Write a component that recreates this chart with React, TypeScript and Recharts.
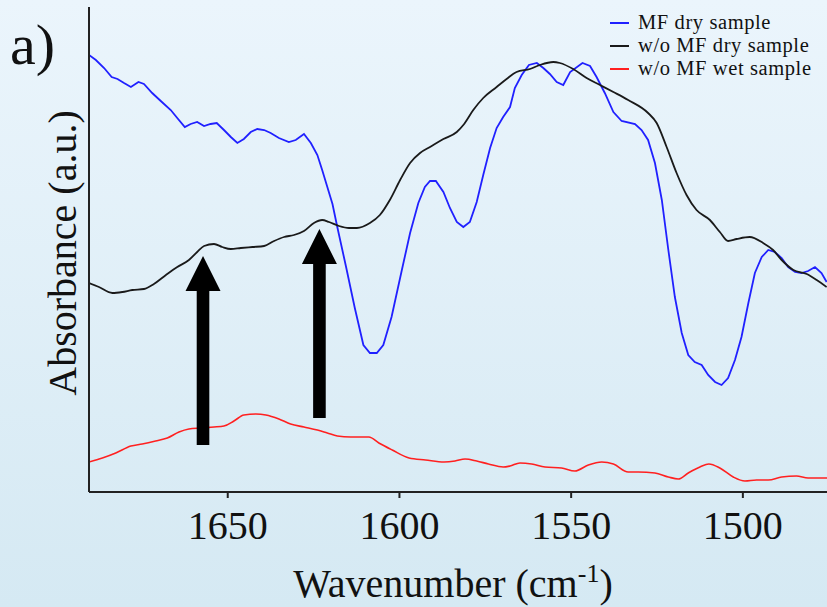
import { LineChart, Line, XAxis, YAxis, Legend, ReferenceLine, Label } from "recharts"

const FONT = '"Liberation Serif", "Times New Roman", serif'

// [wavenumber (cm-1), absorbance (a.u.)]
const mfDry: [number, number][] = [
  [1690.4, 437], [1688.4, 432], [1686.0, 424], [1683.8, 415], [1682.1, 413], [1680.2, 409],
  [1678.2, 405], [1676.0, 410], [1674.4, 408], [1672.0, 399], [1669.5, 391], [1666.6, 382],
  [1664.7, 374], [1662.5, 365], [1660.8, 368], [1658.9, 370], [1656.9, 366], [1655.0, 368],
  [1653.2, 369], [1651.1, 362], [1649.1, 355], [1647.2, 349], [1645.3, 353], [1643.3, 360],
  [1641.4, 363], [1639.4, 362], [1637.5, 359], [1635.1, 354], [1632.2, 350], [1630.2, 352],
  [1627.8, 358], [1625.8, 349], [1623.9, 337], [1622.5, 322], [1621.0, 305], [1619.5, 288],
  [1618.1, 265], [1615.6, 226], [1613.0, 184], [1610.5, 147], [1608.6, 139], [1606.6, 139],
  [1604.7, 147], [1602.3, 175], [1599.3, 222], [1596.9, 259], [1594.5, 289], [1592.6, 305],
  [1591.1, 311], [1589.4, 311], [1587.2, 300], [1585.3, 284], [1583.3, 270], [1581.4, 265],
  [1579.5, 270], [1577.5, 290], [1575.6, 317], [1573.6, 344], [1571.7, 364], [1569.8, 375],
  [1567.8, 385], [1566.4, 404], [1564.4, 417], [1562.3, 427], [1560.0, 429], [1558.1, 424],
  [1556.2, 418], [1554.2, 410], [1552.3, 407], [1550.3, 420], [1546.7, 429], [1544.5, 426],
  [1542.6, 415], [1540.2, 399], [1537.7, 380], [1535.3, 371], [1531.4, 368], [1529.5, 362],
  [1527.6, 352], [1525.6, 329], [1523.6, 292], [1521.7, 242], [1519.8, 195], [1517.8, 159],
  [1515.9, 137], [1514.0, 130], [1512.0, 127], [1510.1, 117], [1508.1, 110], [1506.2, 107],
  [1504.3, 114], [1502.3, 132], [1500.4, 155], [1498.4, 189], [1496.5, 219], [1494.5, 235],
  [1492.6, 242], [1490.7, 240], [1488.7, 234], [1486.8, 225], [1484.8, 220], [1482.9, 219],
  [1481.0, 221], [1479.0, 225], [1477.1, 219], [1475.6, 210],
]

const noMfDry: [number, number][] = [
  [1690.4, 209], [1687.5, 205], [1683.6, 199], [1680.7, 200], [1677.8, 202], [1674.4, 203],
  [1671.5, 208], [1668.0, 217], [1664.7, 225], [1661.3, 232], [1658.9, 240], [1656.9, 246],
  [1654.0, 248], [1651.6, 245], [1649.1, 243], [1646.2, 244], [1642.8, 245], [1639.4, 246],
  [1636.5, 251], [1633.6, 255], [1630.7, 257], [1627.8, 261], [1624.9, 269], [1622.5, 272],
  [1620.5, 270], [1617.6, 266], [1614.7, 264], [1612.4, 264], [1608.6, 269], [1605.7, 277],
  [1602.8, 292], [1599.8, 312], [1596.9, 329], [1594.0, 339], [1591.1, 345], [1587.2, 353],
  [1583.3, 360], [1581.4, 367], [1578.5, 382], [1575.6, 394], [1571.7, 405], [1568.8, 413],
  [1565.9, 420], [1562.0, 423], [1559.1, 427], [1555.2, 430], [1553.3, 429], [1549.4, 423],
  [1545.5, 414], [1541.6, 407], [1537.7, 400], [1533.4, 392], [1527.6, 379], [1525.1, 369],
  [1522.2, 345], [1519.3, 319], [1516.4, 297], [1513.5, 282], [1509.6, 272], [1506.7, 260],
  [1504.3, 251], [1501.8, 253], [1498.0, 255], [1494.1, 249], [1491.2, 242], [1488.7, 232],
  [1485.3, 222], [1481.4, 218], [1478.5, 212], [1475.6, 205],
]

const noMfWet: [number, number][] = [
  [1690.4, 30], [1686.5, 34], [1682.6, 39], [1678.2, 46], [1674.9, 48], [1671.0, 51],
  [1667.6, 54], [1664.2, 60], [1661.3, 63], [1657.9, 64], [1654.0, 65], [1651.1, 66],
  [1648.2, 71], [1645.3, 77], [1641.8, 78], [1638.9, 77], [1635.1, 73], [1631.7, 68],
  [1627.8, 65], [1623.9, 62], [1621.0, 59], [1618.1, 56], [1614.2, 55], [1608.9, 55],
  [1606.0, 49], [1602.1, 42], [1597.2, 34], [1592.4, 32], [1587.0, 30], [1583.8, 31],
  [1580.9, 33], [1577.5, 31], [1574.1, 28], [1569.8, 25], [1567.8, 26], [1564.9, 29],
  [1561.5, 28], [1557.6, 25], [1552.8, 24], [1548.9, 21], [1545.0, 27], [1541.1, 30],
  [1537.7, 28], [1533.4, 20], [1530.5, 20], [1525.6, 19], [1521.7, 15], [1518.8, 13],
  [1515.9, 19], [1512.5, 25], [1509.9, 28], [1506.7, 24], [1502.8, 15], [1499.4, 11],
  [1496.0, 12], [1492.6, 12], [1488.7, 15], [1484.4, 16], [1481.0, 14], [1475.5, 14],
]

const xTicks = [1650, 1600, 1550, 1500]

// arrows marking the two shoulders: position, base and tip
const arrowWn = [1657.2, 1623.3]
const arrowBase = [47, 74]
const arrowTip = [236, 263]

const toRows = (pts: [number, number][]) => pts.map(([wn, abs]) => ({ wn, abs }))

const Arrow = (p: any) => {
  const x = p.x1
  const bottom = Math.max(p.y1, p.y2)
  const tip = Math.min(p.y1, p.y2)
  const head = 35
  const hw = 17.5
  const sw = 6.3
  const pts = [
    [x - sw, bottom], [x - sw, tip + head], [x - hw, tip + head], [x, tip],
    [x + hw, tip + head], [x + sw, tip + head], [x + sw, bottom],
  ]
  return <polygon points={pts.map((q) => q.join(",")).join(" ")} fill="#000" />
}

const LegendBox = ({ payload }: any) => (
  <div style={{ fontFamily: FONT, fontSize: 20.5, lineHeight: "23px", letterSpacing: 0.6, color: "#111" }}>
    {(payload || []).map((e: any) => (
      <div key={e.value} style={{ display: "flex", alignItems: "center", whiteSpace: "nowrap", height: 23 }}>
        <span style={{ display: "inline-block", width: 19, height: 2, background: e.color, marginRight: 9 }} />
        {e.value}
      </div>
    ))}
  </div>
)

export default function App() {
  return (
    <div
      style={{
        position: "absolute",
        left: 0,
        top: 0,
        width: 827,
        height: 607,
        overflow: "hidden",
        background: "linear-gradient(#ebf5fc, #d5e9f3)",
      }}
    >
      <span
        style={{
          position: "absolute",
          left: 10,
          top: 16,
          fontFamily: FONT,
          fontSize: 58,
          lineHeight: "58px",
          color: "#111",
        }}
      >
        a)
      </span>
      <LineChart width={827} height={607} margin={{ top: 7, right: 0, bottom: 0, left: 0 }}>
        <XAxis
          dataKey="wn"
          type="number"
          domain={[1475.5, 1690.4]}
          reversed
          allowDataOverflow
          ticks={xTicks}
          height={115}
          tickSize={6}
          tickMargin={13}
          tick={{ fontSize: 40, fill: "#111", fontFamily: FONT }}
          axisLine={{ stroke: "#222", strokeWidth: 2 }}
          tickLine={{ stroke: "#222", strokeWidth: 2 }}
        >
          <Label
            content={() => (
              <text x={453} y={597} textAnchor="middle" fontFamily={FONT} fontSize={40} fill="#111">
                Wavenumber (cm
                <tspan fontSize={26} dy={-15}>-1</tspan>
                <tspan dy={15}>)</tspan>
              </text>
            )}
          />
        </XAxis>
        <YAxis
          type="number"
          domain={[0, 485]}
          width={89}
          tick={false}
          tickLine={false}
          axisLine={{ stroke: "#222", strokeWidth: 2 }}
        >
          <Label
            content={() => (
              <text
                x={76}
                y={253}
                transform="rotate(-90, 76, 253)"
                textAnchor="middle"
                fontFamily={FONT}
                fontSize={40}
                fill="#111"
              >
                Absorbance (a.u.)
              </text>
            )}
          />
        </YAxis>
        <Legend
          layout="horizontal"
          verticalAlign="middle"
          align="center"
          wrapperStyle={{ top: 11, left: 610, width: 217 }}
          content={<LegendBox />}
        />
        <Line
          data={toRows(mfDry)}
          dataKey="abs"
          name="MF dry sample"
          type="linear"
          stroke="#2020ff"
          strokeWidth={1.8}
          dot={false}
          isAnimationActive={false}
        />
        <Line
          data={toRows(noMfDry)}
          dataKey="abs"
          name="w/o MF dry sample"
          type="monotone"
          stroke="#1a1a1a"
          strokeWidth={1.8}
          dot={false}
          isAnimationActive={false}
        />
        <Line
          data={toRows(noMfWet)}
          dataKey="abs"
          name="w/o MF wet sample"
          type="monotone"
          stroke="#ff2020"
          strokeWidth={1.6}
          dot={false}
          isAnimationActive={false}
        />
        {arrowWn.map((wn, i) => (
          <ReferenceLine
            key={wn}
            segment={[
              { x: wn, y: arrowBase[i] },
              { x: wn, y: arrowTip[i] },
            ]}
            shape={Arrow}
          />
        ))}
      </LineChart>
    </div>
  )
}
